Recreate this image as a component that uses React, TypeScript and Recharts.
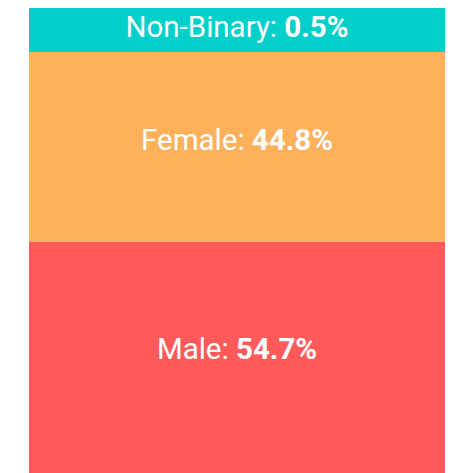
import { BarChart, Bar, XAxis, YAxis, LabelList } from "recharts";

const categories = ["Gender"];
const maleValues = [54.7];
const femaleValues = [44.8];
const nonBinaryValues = [0.5];

const data = categories.map((c, i) => ({
  name: c,
  male: maleValues[i],
  female: femaleValues[i],
  nonBinary: nonBinaryValues[i],
}));

function SegmentLabel({ x, y, width, height, value, title }: any) {
  const cx = x + width / 2;
  // labels sit a little above the middle of each band
  const cy = y + height * 0.462;
  return (
    <text
      x={cx}
      y={cy}
      textAnchor="middle"
      dominantBaseline="central"
      fill="#ffffff"
      fontFamily="Roboto, sans-serif"
      fontSize={29.5}
    >
      <tspan>{title}: </tspan>
      <tspan fontWeight="bold">{value}%</tspan>
    </text>
  );
}

export default function App() {
  return (
    <BarChart
      width={437}
      height={465}
      data={data}
      barCategoryGap={0}
      margin={{ top: 42, right: 0, bottom: 0, left: 21 }}
    >
      <XAxis dataKey="name" hide />
      <YAxis hide domain={[0, 100]} />
      <Bar dataKey="male" stackId="g" fill="#ff5a5a" isAnimationActive={false}>
        <LabelList dataKey="male" content={(p: any) => <SegmentLabel {...p} title="Male" />} />
      </Bar>
      <Bar dataKey="female" stackId="g" fill="#ffb05a" isAnimationActive={false}>
        <LabelList dataKey="female" content={(p: any) => <SegmentLabel {...p} title="Female" />} />
      </Bar>
      <Bar dataKey="nonBinary" stackId="g" fill="#00cfca" minPointSize={46} isAnimationActive={false}>
        <LabelList dataKey="nonBinary" content={(p: any) => <SegmentLabel {...p} title="Non-Binary" />} />
      </Bar>
    </BarChart>
  );
}
